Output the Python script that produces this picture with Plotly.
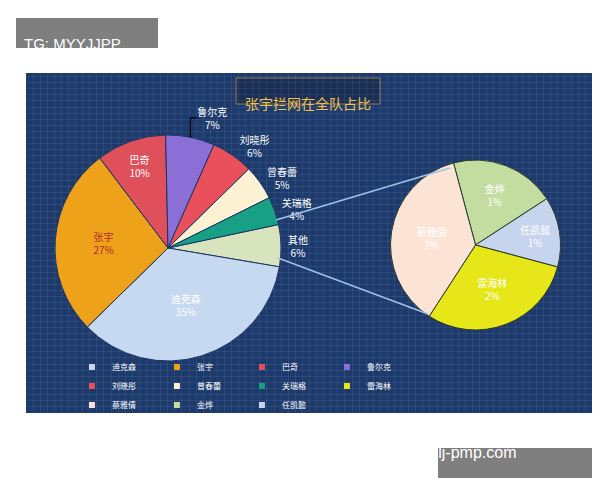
import plotly.graph_objects as go

main_labels = ["其他", "迪克森", "张宇", "巴奇", "鲁尔克", "刘晓彤", "曾春蕾", "关瑞格"]
main_values = [6, 35, 27, 10, 7, 6, 5, 4]
main_colors = ["#d7e4bd", "#c6d9f1", "#eea21a", "#e0505a", "#8b6fd6", "#e9505c", "#fcf1d2", "#17a083"]
sub_labels = ["金烨", "任凯懿", "雷海林", "蔡雅倩"]
sub_values = [1.2, 0.8, 1.8, 2.2]
sub_text_pct = ["1%", "1%", "2%", "2%"]
sub_colors = ["#c3dda0", "#c6d4ee", "#e6e619", "#fbe4d6"]
legend_order = ["迪克森", "张宇", "巴奇", "鲁尔克", "刘晓彤", "曾春蕾", "关瑞格", "雷海林", "蔡雅倩", "金烨", "任凯懿"]
cmap = dict(zip(main_labels + sub_labels, main_colors + sub_colors))

W, H = 600, 480
def px(x): return x / W
def py(y): return 1 - y / H

F = "Noto Sans CJK SC"
fig = go.Figure()
fig.add_trace(go.Pie(
    labels=main_labels, values=main_values, sort=False, direction="clockwise", rotation=78,
    marker=dict(colors=main_colors, line=dict(color="#1a3566", width=1)),
    text=[f"{l}<br>{v}%" for l, v in zip(main_labels, main_values)], textinfo="text",
    textposition=["outside", "inside", "inside", "inside", "outside", "outside", "outside", "outside"],
    insidetextorientation="horizontal",
    textfont=dict(family=F, size=10, color=["white", "white", "#b0282a", "white", "white", "white", "white", "white"]),
    domain=dict(x=[px(45), px(275)], y=[py(353), py(127)]), showlegend=False, hoverinfo="label+value"))
fig.add_trace(go.Pie(
    labels=sub_labels, values=sub_values, sort=False, direction="clockwise", rotation=-15,
    marker=dict(colors=sub_colors, line=dict(color="#2a3a2a", width=1)),
    text=[f"{l}<br>{p}" for l, p in zip(sub_labels, sub_text_pct)], textinfo="text",
    textposition="inside", insidetextorientation="horizontal",
    textfont=dict(family=F, size=10, color="white"),
    domain=dict(x=[px(382), px(553)], y=[py(322), py(152)]), showlegend=False, hoverinfo="label"))
for l in legend_order:
    fig.add_trace(go.Scatter(x=[None], y=[None], mode="markers", name=l,
                             marker=dict(symbol="square", size=6, color=cmap[l])))

fig.update_layout(
    width=W, height=H, margin=dict(l=0, r=0, t=0, b=0),
    paper_bgcolor="white", plot_bgcolor="rgba(0,0,0,0)",
    xaxis=dict(domain=[px(18), px(585)], range=[0, 1], showgrid=True, dtick=0.0125,
               gridcolor="rgba(255,255,255,0.07)", showticklabels=False, zeroline=False, fixedrange=True),
    yaxis=dict(domain=[py(405), py(65)], range=[0, 1], showgrid=True, dtick=0.018,
               gridcolor="rgba(255,255,255,0.07)", showticklabels=False, zeroline=False, fixedrange=True),
    legend=dict(orientation="h", x=px(92), xanchor="left", y=py(378), yanchor="middle",
                font=dict(family=F, size=8, color="white"), itemwidth=30,
                entrywidth=40, entrywidthmode="pixels", tracegroupgap=0,
                bgcolor="rgba(0,0,0,0)"),
    shapes=[
        dict(type="rect", xref="paper", yref="paper", x0=px(18), x1=px(585), y0=py(405), y1=py(65),
             fillcolor="#1c3a6c", line=dict(width=0), layer="below"),
        dict(type="rect", xref="paper", yref="paper", x0=px(228), x1=px(372), y0=py(96), y1=py(70),
             fillcolor="#1a2f55", line=dict(color="#8a7a50", width=1), layer="below"),
        dict(type="line", xref="paper", yref="paper", x0=px(268), y0=py(212), x1=px(442), y1=py(160),
             line=dict(color="#9cc3e6", width=1.5)),
        dict(type="line", xref="paper", yref="paper", x0=px(270), y0=py(250), x1=px(420), y1=py(306),
             line=dict(color="#9cc3e6", width=1.5)),
        dict(type="rect", xref="paper", yref="paper", x0=px(8), x1=px(150), y0=py(40), y1=py(10),
             fillcolor="#7f7f7f", line=dict(width=0), layer="below"),
        dict(type="rect", xref="paper", yref="paper", x0=px(430), x1=px(590), y0=py(470), y1=py(440),
             fillcolor="#7f7f7f", line=dict(width=0), layer="below"),
    ],
    annotations=[
        dict(text="张宇拦网在全队占比", xref="paper", yref="paper", x=0.5, y=py(83), showarrow=False,
             font=dict(family=F, size=14, color="#f2c14e")),
        dict(text="TG: MYYJJPP", xref="paper", yref="paper", x=px(14), y=py(25), xanchor="left",
             showarrow=False, font=dict(family="Liberation Sans", size=15, color="white")),
        dict(text="www.lj-pmp.com", xref="paper", yref="paper", x=px(510), y=py(455),
             showarrow=False, font=dict(family="Liberation Sans", size=16, color="white")),
    ],
)
fig.write_html("out.html")
